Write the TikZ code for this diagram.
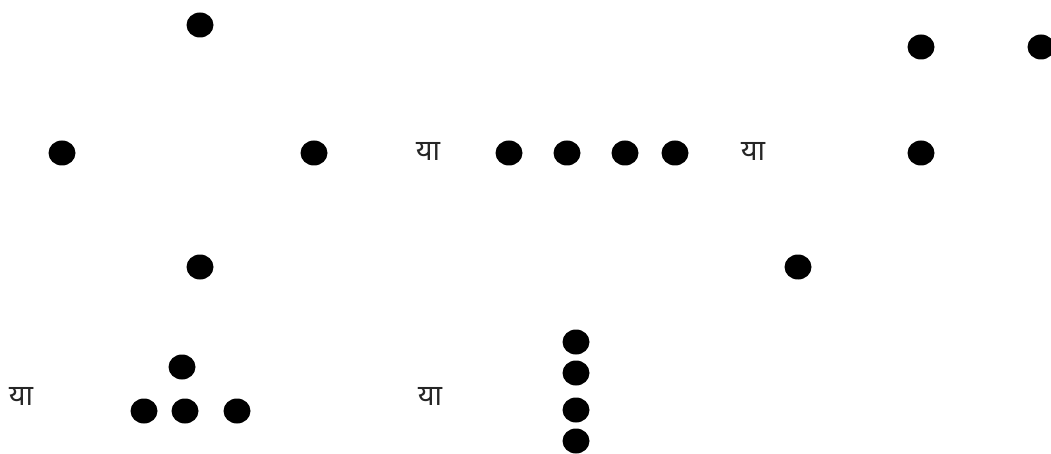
\documentclass[tikz,border=0pt]{standalone}
\usepackage{fontspec}
\newfontfamily\devfont[Script=Devanagari]{Noto Sans}
\usetikzlibrary{shapes.geometric}
\begin{document}
\begin{tikzpicture}[x=1pt,y=-1pt,
  dot/.style={ellipse,fill=black,inner sep=0pt,minimum width=27pt,minimum height=25pt},
  ya/.style={inner sep=0pt,text=black!85,font=\devfont\fontsize{29}{32}\selectfont}]
\useasboundingbox (0,0) rectangle (1051,454);
% group 1
\node[dot] (a1) at (200,25) {};
\node[dot] (a2) at (62,153) {};
\node[dot] (a3) at (314,153) {};
\node[dot] (a4) at (200,267) {};
% middle row
\node[ya] (t1) at (428,151) {या};
\node[dot] (b1) at (509,153) {};
\node[dot] (b2) at (567,153) {};
\node[dot] (b3) at (625,153) {};
\node[dot] (b4) at (675,153) {};
\node[ya] (t2) at (753,151) {या};
% right group
\node[dot] (c1) at (921,47) {};
\node[dot] (c2) at (1041,47) {};
\node[dot] (c3) at (921,153) {};
\node[dot] (c4) at (798,267) {};
% bottom left
\node[ya] (t3) at (21,396) {या};
\node[dot] (d1) at (182,367) {};
\node[dot] (d2) at (144,411) {};
\node[dot] (d3) at (185,411) {};
\node[dot] (d4) at (237,411) {};
% bottom middle
\node[ya] (t4) at (430,396) {या};
\node[dot] (e1) at (576,342) {};
\node[dot] (e2) at (576,373) {};
\node[dot] (e3) at (576,410) {};
\node[dot] (e4) at (576,441) {};
\end{tikzpicture}
\end{document}
